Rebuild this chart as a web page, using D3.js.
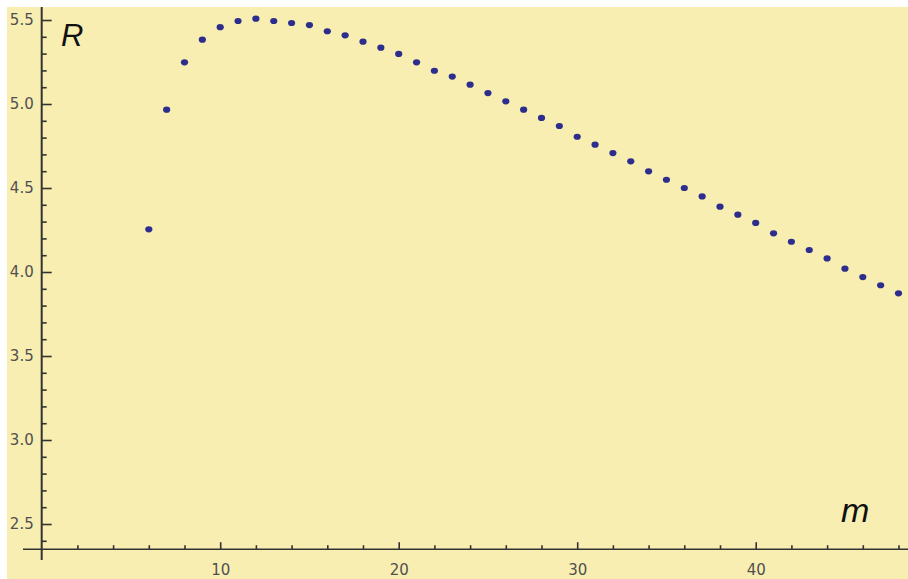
<!DOCTYPE html>
<html>
<head>
<meta charset="utf-8">
<script src="https://cdn.jsdelivr.net/npm/d3@7"></script>
<style>
  html, body { margin: 0; padding: 0; background: #fff; }
  svg { display: block; }
</style>
</head>
<body>
<svg id="chart" width="908" height="579"></svg>
<script>
// values
const mValues = [6, 7, 8, 9, 10, 11, 12, 13, 14, 15, 16, 17, 18, 19, 20, 21, 22, 23, 24, 25, 26, 27,
  28, 29, 30, 31, 32, 33, 34, 35, 36, 37, 38, 39, 40, 41, 42, 43, 44, 45, 46, 47, 48];
const rValues = [4.254, 4.966, 5.248, 5.383, 5.457, 5.494, 5.508, 5.494, 5.482, 5.47, 5.433, 5.409,
  5.371, 5.335, 5.298, 5.248, 5.198, 5.163, 5.115, 5.065, 5.016, 4.966, 4.917, 4.869, 4.805,
  4.758, 4.708, 4.659, 4.599, 4.549, 4.5, 4.45, 4.389, 4.341, 4.292, 4.23, 4.18, 4.131, 4.081,
  4.02, 3.97, 3.921, 3.873];

const xMajor = [10, 20, 30, 40];
const xMinor = [2, 4, 6, 8, 12, 14, 16, 18, 22, 24, 26, 28, 32, 34, 36, 38, 42, 44, 46, 48];
const yMajor = [2.5, 3.0, 3.5, 4.0, 4.5, 5.0, 5.5];
const yMinor = d3.range(24, 56).map(d => d / 10).filter(d => !yMajor.includes(d));

const xLabel = "m";
const yLabel = "R";

const svg = d3.select("#chart");
const W = 908, H = 579;

// pale yellow panel (white strip on the top and left edge)
svg.append("rect")
  .attr("x", 7).attr("y", 7)
  .attr("width", W - 7).attr("height", H - 7)
  .attr("fill", "#f8eeb1");

const x = d3.scaleLinear().domain([0, 48]).range([41.7, 898.5]);
const y = d3.scaleLinear().domain([2.5, 5.5]).range([524, 20]);

const axisY = 2.35; // where the m axis crosses
const y0 = y(axisY);
const x0 = x(0);

const axisColor = "#333";
const labelColor = "#505050";
const tickFont = "DejaVu Sans, sans-serif";

// axis lines
svg.append("line")
  .attr("x1", 23).attr("x2", W)
  .attr("y1", y0).attr("y2", y0)
  .attr("stroke", axisColor).attr("stroke-width", 1.4);
svg.append("line")
  .attr("x1", x0).attr("x2", x0)
  .attr("y1", 7).attr("y2", 560)
  .attr("stroke", axisColor).attr("stroke-width", 2);

// y axis ticks (pointing into the plot), labels on the left
const gy = svg.append("g").attr("transform", `translate(${x0},0)`);
gy.append("g")
  .call(d3.axisLeft(y).tickValues(yMinor).tickSizeInner(-5).tickSizeOuter(0).tickFormat(""));
gy.append("g")
  .call(d3.axisLeft(y).tickValues(yMajor).tickSizeInner(-10).tickSizeOuter(0)
    .tickPadding(8).tickFormat(d3.format(".1f")));
gy.selectAll(".domain").remove();

// x axis ticks (pointing up), labels below
const gx = svg.append("g").attr("transform", `translate(0,${y0})`);
gx.append("g")
  .call(d3.axisBottom(x).tickValues(xMinor).tickSizeInner(-4).tickSizeOuter(0).tickFormat(""));
gx.append("g")
  .call(d3.axisBottom(x).tickValues(xMajor).tickSizeInner(-7).tickSizeOuter(0).tickFormat(d3.format("d")));
gx.selectAll(".domain").remove();
gx.selectAll("text").attr("y", 26).attr("dy", null);

svg.selectAll(".tick line").attr("stroke", axisColor).attr("stroke-width", 1.6);
svg.selectAll(".tick text")
  .attr("fill", labelColor)
  .style("font-family", tickFont)
  .style("font-size", "15px");

// points
svg.append("g")
  .selectAll("ellipse")
  .data(mValues.map((m, i) => ({ m, r: rValues[i] })))
  .join("ellipse")
  .attr("cx", d => x(d.m))
  .attr("cy", d => y(d.r))
  .attr("rx", 3.6)
  .attr("ry", 3.1)
  .attr("fill", "#2d2d8e");

// axis labels
svg.append("text")
  .attr("x", 61).attr("y", 46)
  .attr("font-family", "Liberation Sans, Arial, sans-serif")
  .attr("font-style", "italic")
  .attr("font-size", 31)
  .attr("fill", "#111")
  .text(yLabel);
svg.append("text")
  .attr("x", 841).attr("y", 522)
  .attr("font-family", "Liberation Sans, Arial, sans-serif")
  .attr("font-style", "italic")
  .attr("font-size", 34)
  .attr("fill", "#111")
  .text(xLabel);
</script>
</body>
</html>
